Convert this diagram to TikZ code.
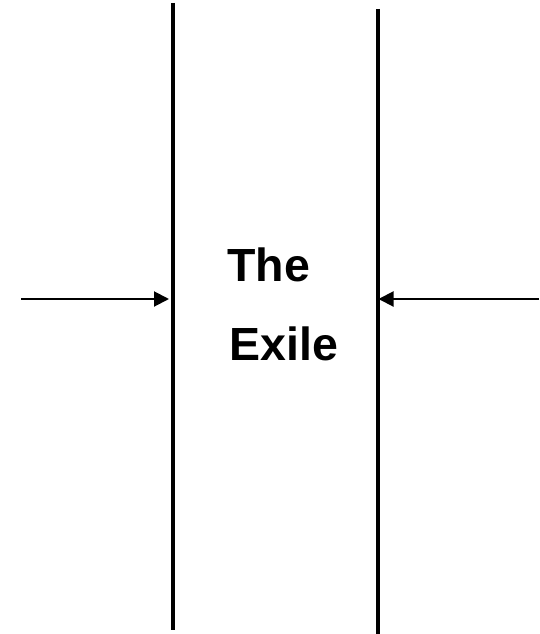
\documentclass[tikz,border=0pt]{standalone}
\usepackage{fontspec}
\setmainfont{Liberation Sans}
\usetikzlibrary{arrows.meta}
\tikzset{
  vline/.style={line width=3.8pt, black},
  arr/.style={line width=2pt, black, -{Triangle[length=15pt,width=15pt]}},
  lbl/.style={anchor=base west, inner sep=0pt, font=\fontsize{46.5pt}{56pt}\selectfont\bfseries}
}
\begin{document}
\begin{tikzpicture}[x=1pt,y=-1pt]
\useasboundingbox (0,0) rectangle (539,634);
\coordinate (ltop) at (173.3,3);
\coordinate (lbot) at (173.3,630);
\coordinate (rtop) at (377.8,9);
\coordinate (rbot) at (377.8,634);
\draw[vline] (ltop) -- (lbot);
\draw[vline] (rtop) -- (rbot);
\coordinate (lstart) at (21,299);
\coordinate (ltip) at (169,299);
\coordinate (rstart) at (539,299);
\coordinate (rtip) at (378.5,299);
\draw[arr] (lstart) -- (ltip);
\draw[arr] (rstart) -- (rtip);
\node[lbl] (the) at (227.3,281.3) {The};
\node[lbl] (exile) at (229.3,360) {Exile};
\end{tikzpicture}
\end{document}
